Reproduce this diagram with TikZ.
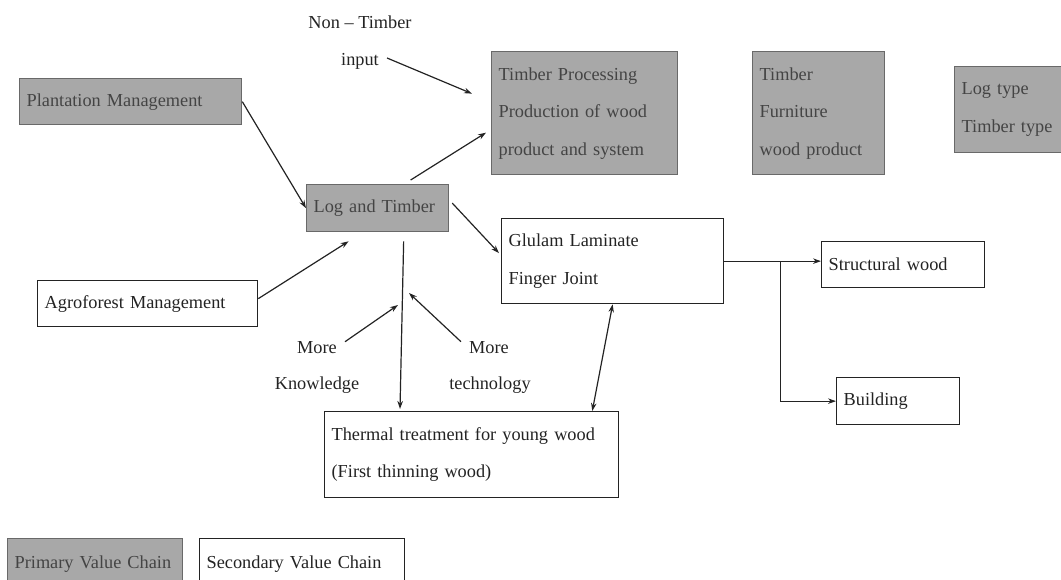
\documentclass[tikz,border=0pt]{standalone}
\usepackage{fontspec}
\setmainfont{Liberation Serif}
\usetikzlibrary{arrows.meta}
\definecolor{chainGrey}{RGB}{168,168,168}
\definecolor{chainEdge}{RGB}{105,105,105}
\definecolor{chainInk}{RGB}{35,35,35}
\tikzset{
  chainbox/.style={rectangle, anchor=north west, inner xsep=7pt, inner ysep=0pt,
    align=left, font=\fontsize{18.3}{37.5}\selectfont, line width=1.3pt},
  primary/.style={chainbox, draw=chainEdge, fill=chainGrey, text=chainInk!85},
  secondary/.style={chainbox, draw=chainInk, fill=white, text=chainInk},
  note/.style={inner sep=0pt, font=\fontsize{18.3}{37.5}\selectfont, text=chainInk},
  flow/.style={draw=chainInk, line width=1.2pt, -{Stealth[length=8pt,width=5.5pt]}},
  twoway/.style={flow, {Stealth[length=8pt,width=5.5pt]}-{Stealth[length=8pt,width=5.5pt]}},
}

\begin{document}
\begin{tikzpicture}[x=1pt,y=-1pt]
\useasboundingbox (0,0) rectangle (1061,580);
% primary value chain
\node[primary, text width=208pt, minimum height=46pt] (plant) at (19,78) {Plantation Management};
\node[primary, text width=172pt, minimum height=123pt] (proc) at (491,51) {Timber Processing\\Production of wood\\product and system};
\node[primary, text width=118pt, minimum height=123pt] (furn) at (752,51) {Timber\\Furniture\\wood product};
\node[primary, text width=98pt, minimum height=86pt] (logtype) at (954,66) {Log type\\Timber type};
\node[primary, text width=128pt, minimum height=47pt] (logtimber) at (306,184) {Log and Timber};
% secondary value chain
\node[secondary, text width=208pt, minimum height=85pt] (glulam) at (501,218) {Glulam Laminate\\Finger Joint};
\node[secondary, text width=149pt, minimum height=46pt] (struct) at (821,241) {Structural wood};
\node[secondary, text width=109pt, minimum height=47pt] (build) at (836,377) {Building};
\node[secondary, text width=206pt, minimum height=46pt] (agro) at (37,280) {Agroforest Management};
\node[secondary, text width=280pt, minimum height=86pt] (thermal) at (324,411) {Thermal treatment for young wood\\(First thinning wood)};
% legend
\node[primary, text width=161pt, minimum height=50pt] (pvc) at (7,538) {Primary Value Chain};
\node[secondary, text width=191pt, minimum height=50pt] (svc) at (199,538) {Secondary Value Chain};
% free labels
\node[note] (nontimber) at (360,22) {Non -- Timber};
\node[note] (input) at (360,61) {input};
\node[note] (moreK) at (317,348) {More};
\node[note] (know) at (317,385) {Knowledge};
\node[note] (moreT) at (489,348) {More};
\node[note] (tech) at (490,385) {technology};
\coordinate (kend) at (398,305);
\coordinate (tend) at (409,293);
% connectors
\draw[flow] ([xshift=8pt,yshift=3pt]input.east) -- ([xshift=-19pt,yshift=19.5pt]proc.west);
\draw[flow] (plant.east) -- (logtimber.west);
\draw[flow] ([xshift=33pt,yshift=4pt]logtimber.north) -- ([xshift=-5pt,yshift=-19.5pt]proc.west);
\draw[flow] ([xshift=3pt,yshift=5pt]logtimber.east) -- ([xshift=-2pt,yshift=8pt]glulam.west);
\draw[flow] ([yshift=5pt]agro.east) -- ([xshift=-29pt,yshift=-9pt]logtimber.south);
\draw[flow] ([xshift=26pt,yshift=-9pt]logtimber.south) -- ([xshift=76pt,yshift=2pt]thermal.north west);
\draw[flow] ([xshift=8pt]moreK.north east) -- (kend);
\draw[flow] ([xshift=-8pt]moreT.north west) -- (tend);
\draw[twoway] (glulam.south) -- ([xshift=-27pt]thermal.north east);
\draw[flow] (glulam.east) -- (glulam.east -| struct.west);
\draw[flow] ([xshift=56pt]glulam.east) |- (build.west);
\end{tikzpicture}
\end{document}
